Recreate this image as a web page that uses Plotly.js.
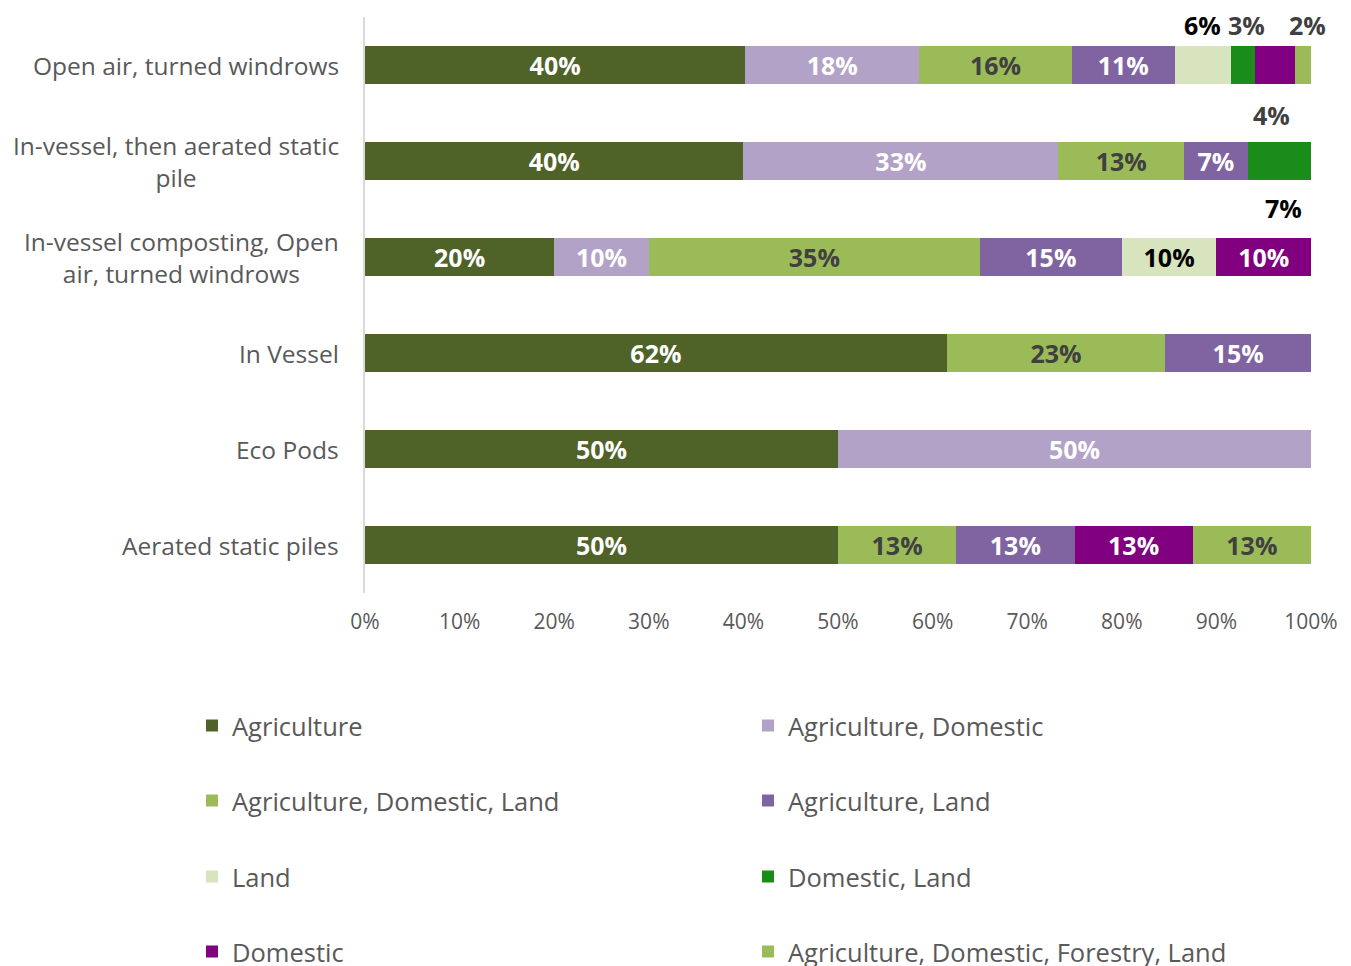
<!DOCTYPE html>
<html>
<head>
<meta charset="utf-8">
<script src="https://cdn.plot.ly/plotly-3.0.1.min.js"></script>
<style>html,body{margin:0;padding:0;background:#fff;}#chart{width:1351px;height:966px;}</style>
</head>
<body>
<div id="chart"></div>
<script>
// ---- data ----
const categories = ['Open air, turned windrows', 'In-vessel, then aerated static pile', 'In-vessel composting, Open air, turned windrows', 'In Vessel', 'Eco Pods', 'Aerated static piles'];
const categoryLabels = ['Open air, turned windrows', 'In-vessel, then aerated static<br>pile', 'In-vessel composting, Open<br>air, turned windrows', 'In Vessel', 'Eco Pods', 'Aerated static piles'];
const seriesNames = ['Agriculture', 'Agriculture, Domestic', 'Agriculture, Domestic, Land', 'Agriculture, Land', 'Land', 'Domestic, Land', 'Domestic', 'Agriculture, Domestic, Forestry, Land'];
const agriculture          = [40.2, 40.0, 20, 61.5, 50, 50.0];
const agricultureDomestic  = [18.4, 33.3, 10,  0.0, 50,  0.0];
const agriDomesticLand     = [16.1, 13.3, 35, 23.1,  0, 12.5];
const agricultureLand      = [10.9,  6.7, 15, 15.4,  0, 12.5];
const land                 = [ 5.9,  0.0, 10,  0.0,  0,  0.0];
const domesticLand         = [ 2.6,  6.7,  0,  0.0,  0,  0.0];
const domestic             = [ 4.2,  0.0, 10,  0.0,  0, 12.5];
const agriDomForestryLand  = [ 1.7,  0.0,  0,  0.0,  0, 12.5];
const xTickValues = [0, 10, 20, 30, 40, 50, 60, 70, 80, 90, 100];
const xTickLabels = ['0%', '10%', '20%', '30%', '40%', '50%', '60%', '70%', '80%', '90%', '100%'];

// ---- styling ----
const series = [agriculture, agricultureDomestic, agriDomesticLand, agricultureLand, land, domesticLand, domestic, agriDomForestryLand];
const colors = ['#4F6228', '#B3A2C7', '#9BBB59', '#8064A2', '#D7E4BD', '#1A8C1A', '#800080', '#9BBB59'];
const textColors = ['#FFFFFF', '#FFFFFF', '#404040', '#FFFFFF', '#000000', '#FFFFFF', '#FFFFFF', '#404040'];
const legendIds = ['legend', 'legend', 'legend2', 'legend2', 'legend3', 'legend3', 'legend4', 'legend4'];
// labels drawn outside the bar: [series, category, xshift, yshift, color]
const outside = [[4, 0, 0, 40, '#000000'], [5, 0, 4, 40, '#404040'], [7, 0, 5, 40, '#404040'], [6, 0, -4, -50, '#404040'], [5, 1, 4, -47, '#000000']];
const isOutside = (s, c) => outside.some(o => o[0] === s && o[1] === c);
const FONT = 'Open Sans, sans-serif';
const fmt = v => Math.round(v) + '%';

const traces = series.map((vals, s) => ({
  type: 'bar', orientation: 'h', name: seriesNames[s],
  y: categories, x: vals,
  marker: {color: colors[s], line: {width: 0}},
  text: vals.map((v, c) => (v > 0 && !isOutside(s, c)) ? fmt(v) : ''),
  textposition: 'inside', insidetextanchor: 'middle', textangle: 0,
  textfont: {family: FONT, size: 25, color: textColors[s], weight: 'bold'},
  hoverinfo: 'skip', legend: legendIds[s]
}));

const annotations = [];
outside.forEach(([s, c, dx, dy, col]) => {
  let start = 0;
  for (let k = 0; k < s; k++) start += series[k][c];
  annotations.push({x: start + series[s][c] / 2, y: categories[c], xref: 'x', yref: 'y', text: fmt(series[s][c]),
    showarrow: false, xshift: dx, yshift: dy, font: {family: FONT, size: 25, color: col, weight: 'bold'}});
});
categories.forEach((cat, c) => {
  annotations.push({x: 0, xref: 'paper', y: cat, yref: 'y', text: categoryLabels[c], showarrow: false,
    xanchor: 'right', xshift: -24, align: 'center', font: {family: FONT, size: 24.5, color: '#595959'}});
});

const PLOT_TOP = 17, PLOT_H = 576, PLOT_L = 365, PLOT_W = 946;
const py = pix => (PLOT_TOP + PLOT_H - pix) / PLOT_H;
const legendBase = {orientation: 'h', x: (192 - PLOT_L) / PLOT_W, xanchor: 'left', yanchor: 'middle',
  entrywidth: 511, entrywidthmode: 'pixels',
  font: {family: FONT, size: 25.5, color: '#595959'}, bgcolor: 'rgba(0,0,0,0)', traceorder: 'normal'};
const layout = {
  width: 1351, height: 966,
  margin: {l: PLOT_L, r: 1351 - PLOT_L - PLOT_W, t: PLOT_TOP, b: 966 - PLOT_TOP - PLOT_H, autoexpand: false},
  paper_bgcolor: '#FFFFFF', plot_bgcolor: '#FFFFFF',
  barmode: 'stack', bargap: 0.6,
  uniformtext: {mode: 'show', minsize: 25},
  xaxis: {range: [0, 100], tickvals: xTickValues, ticktext: xTickLabels, showgrid: false, zeroline: false, showline: false,
    ticks: '', ticklabelstandoff: 14, tickfont: {family: FONT, size: 21, color: '#595959'}, fixedrange: true},
  yaxis: {type: 'category', autorange: false, range: [categories.length - 0.5, -0.5], showticklabels: false, showgrid: false, zeroline: false,
    showline: true, linecolor: '#D9D9D9', linewidth: 2, ticks: '', fixedrange: true},
  annotations: annotations,
  showlegend: true,
  legend: Object.assign({}, legendBase, {y: py(726)}),
  legend2: Object.assign({}, legendBase, {y: py(801)}),
  legend3: Object.assign({}, legendBase, {y: py(877)}),
  legend4: Object.assign({}, legendBase, {y: py(952)})
};
Plotly.newPlot('chart', traces, layout, {displayModeBar: false, staticPlot: true});
</script>
</body>
</html>
